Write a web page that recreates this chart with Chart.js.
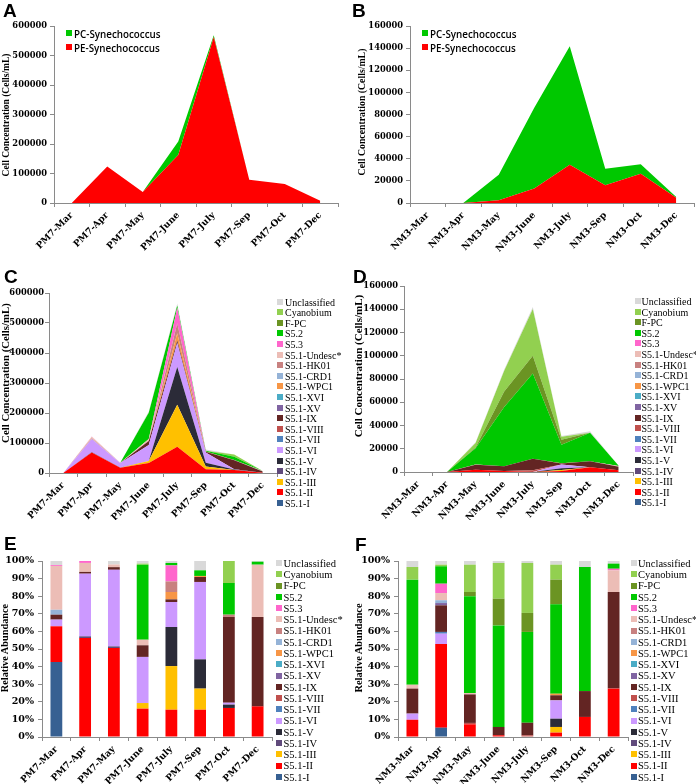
<!DOCTYPE html>
<html>
<head>
<meta charset="utf-8">
<script src="https://cdn.jsdelivr.net/npm/chart.js@4.4.0/dist/chart.umd.min.js"></script>
<style>
body { margin: 0; background: #fff; }
#page { position: relative; width: 696px; height: 784px; overflow: hidden; }
canvas { position: absolute; }
.letter { position: absolute; font: bold 19px 'Liberation Sans', Arial, sans-serif; line-height: 19px; color: #000; }
.ytitle { position: absolute; font-family: 'Liberation Serif', 'Times New Roman', serif; font-weight: bold; line-height: 1; white-space: nowrap; transform: translate(-50%, -50%) rotate(-90deg); }
.lg { position: absolute; white-space: nowrap; line-height: 1; color: #000; }
.sq { position: absolute; }
</style>
</head>
<body>
<div id="page">
  <canvas id="chartA" width="348" height="260" style="left:0;top:0"></canvas>
  <canvas id="chartB" width="348" height="260" style="left:348px;top:0"></canvas>
  <canvas id="chartC" width="348" height="260" style="left:0;top:260px"></canvas>
  <canvas id="chartD" width="348" height="260" style="left:348px;top:260px"></canvas>
  <canvas id="chartE" width="348" height="264" style="left:0;top:520px"></canvas>
  <canvas id="chartF" width="348" height="264" style="left:348px;top:520px"></canvas>
</div>
<script>
// sampling months
const pm7Labels = ['PM7-Mar', 'PM7-Apr', 'PM7-May', 'PM7-June', 'PM7-July', 'PM7-Sep', 'PM7-Oct', 'PM7-Dec'];
const nm3Labels = ['NM3-Mar', 'NM3-Apr', 'NM3-May', 'NM3-June', 'NM3-July', 'NM3-Sep', 'NM3-Oct', 'NM3-Dec'];

// panels A/B: cell concentration (cells/mL)
const pm7PE = [0, 124000, 37000, 163000, 563000, 79000, 64000, 8000];
const pm7PC = [0, 0, 0, 45600, 6000, 0, 0, 0];
const nm3PE = [0, 0, 2400, 13000, 34600, 16000, 26500, 4800];
const nm3PC = [0, 0, 23200, 73000, 107200, 15000, 8500, 600];

// clades, bottom of stack first
const cladeNames = ['S5.1-I', 'S5.1-II', 'S5.1-III', 'S5.1-IV', 'S5.1-V', 'S5.1-VI', 'S5.1-VII', 'S5.1-VIII',
  'S5.1-IX', 'S5.1-XV', 'S5.1-XVI', 'S5.1-WPC1', 'S5.1-CRD1', 'S5.1-HK01', 'S5.1-Undesc*', 'S5.3', 'S5.2',
  'F-PC', 'Cyanobium', 'Unclassified'];
const cladeColors = ['#376092', '#ff0000', '#ffc000', '#604a7b', '#2b2b38', '#cc99ff', '#4f81bd', '#c0504d',
  '#632523', '#8064a2', '#4bacc6', '#f79646', '#95b3d7', '#c88180', '#ecbdb6', '#ff66cc', '#00c800',
  '#6b9423', '#92d050', '#d9d9d9'];

// panel C: PM7 clade concentrations (cells/mL), rows in cladeNames order
const pm7Conc = [
  [0, 0, 0, 0, 0, 0, 0, 0],
  [0, 68600, 17700, 33000, 87600, 12100, 10200, 1220],
  [0, 0, 0, 6600, 140100, 9400, 0, 0],
  [0, 1200, 350, 0, 0, 0, 0, 0],
  [0, 0, 0, 0, 125400, 12900, 1200, 0],
  [0, 43400, 15200, 53700, 80200, 34300, 700, 0],
  [0, 0, 0, 0, 0, 0, 0, 0],
  [0, 0, 0, 0, 0, 0, 0, 0],
  [0, 1200, 500, 13500, 8500, 2200, 30200, 3560],
  [0, 0, 0, 0, 0, 0, 0, 0],
  [0, 0, 0, 0, 0, 0, 0, 0],
  [0, 0, 0, 0, 23700, 470, 0, 0],
  [0, 0, 0, 0, 0, 0, 0, 0],
  [0, 0, 0, 0, 33900, 0, 800, 0],
  [0, 6200, 520, 6600, 0, 0, 0, 2080],
  [0, 1300, 0, 0, 51400, 0, 0, 0],
  [0, 0, 0, 87300, 7900, 2500, 11200, 120],
  [0, 0, 0, 0, 0, 0, 0, 0],
  [0, 0, 0, 1200, 0, 0, 7750, 0],
  [0, 0, 700, 3100, 6200, 4100, 0, 30]
];

// panel D: NM3 clade concentrations (cells/mL)
const nm3Conc = [
  [0, 0, 0, 0, 0, 0, 0, 0],
  [0, 0, 1840, 880, 0, 780, 3990, 1490],
  [0, 0, 0, 0, 0, 990, 0, 0],
  [0, 0, 0, 0, 0, 0, 0, 0],
  [0, 0, 0, 0, 0, 1460, 0, 0],
  [0, 0, 0, 0, 0, 3220, 0, 0],
  [0, 0, 0, 0, 0, 0, 0, 0],
  [0, 0, 200, 0, 1400, 0, 0, 0],
  [0, 0, 4150, 4140, 10100, 900, 5150, 2960],
  [0, 0, 0, 0, 0, 0, 0, 0],
  [0, 0, 0, 0, 0, 0, 0, 0],
  [0, 0, 0, 0, 0, 280, 0, 0],
  [0, 0, 0, 0, 0, 0, 0, 0],
  [0, 0, 0, 0, 0, 0, 0, 0],
  [0, 0, 200, 0, 0, 0, 0, 660],
  [0, 0, 0, 0, 0, 0, 0, 50],
  [0, 0, 14080, 50800, 73200, 15750, 24680, 160],
  [0, 0, 610, 13400, 15300, 4340, 0, 0],
  [0, 0, 3970, 17900, 40300, 2640, 0, 0],
  [0, 0, 540, 970, 1560, 650, 1190, 80]
];

// panel E: PM7 relative abundance (%)
const pm7Pct = [
  [42.6, 0, 0, 0, 0, 0, 0, 0],
  [20.3, 56.2, 50.5, 16.1, 15.5, 15.5, 16.5, 17.4],
  [0, 0, 0, 3.2, 24.8, 12.0, 0, 0],
  [0, 1.0, 1.0, 0, 0, 0, 0, 0],
  [0, 0, 0, 0, 22.2, 16.6, 1.9, 0],
  [3.8, 35.6, 43.5, 26.2, 14.2, 44.0, 1.1, 0],
  [0, 0, 0, 0, 0, 0, 0, 0],
  [0, 0, 0, 0, 0, 0, 0, 0],
  [2.8, 1.0, 1.5, 6.6, 1.5, 2.8, 48.7, 50.8],
  [0, 0, 0, 0, 0, 0, 0, 0],
  [0, 0, 0, 0, 0, 0, 0, 0],
  [0, 0, 0, 0, 4.2, 0.6, 0, 0],
  [2.8, 0, 0, 0, 0, 0, 0, 0],
  [0, 0, 0, 0, 6.0, 0, 1.3, 0],
  [24.9, 5.1, 1.5, 3.2, 0, 0, 0, 29.7],
  [0.5, 1.1, 0, 0, 9.1, 0, 0, 0],
  [0, 0, 0, 42.6, 1.4, 3.2, 18.0, 1.7],
  [0, 0, 0, 0, 0, 0, 0, 0],
  [0, 0, 0, 0.6, 0, 0, 12.5, 0],
  [2.3, 0, 2.0, 1.5, 1.1, 5.3, 0, 0.4]
];

// panel F: NM3 relative abundance (%)
const nm3Pct = [
  [0, 5.3, 0, 0, 0, 0, 0, 0],
  [9.8, 47.5, 7.2, 1.0, 0, 2.5, 11.4, 27.5],
  [0, 0, 0, 0, 0, 3.2, 0, 0],
  [0, 0, 0, 0, 0, 0, 0, 0],
  [0, 0, 0, 0, 0, 4.7, 0, 0],
  [3.5, 5.9, 0, 0, 0, 10.4, 0, 0],
  [0, 1.0, 0, 0, 0, 0, 0, 0],
  [0, 0, 0.8, 0, 1.0, 0, 0, 0],
  [14.2, 15.1, 16.2, 4.7, 7.1, 2.9, 14.7, 54.9],
  [0, 1.3, 0, 0, 0, 0, 0, 0],
  [0, 0, 0, 0, 0, 0, 0, 0],
  [0, 0, 0, 0, 0, 0.9, 0, 0],
  [0, 1.6, 0, 0, 0, 0, 0, 0],
  [0, 0, 0, 0, 0, 0, 0, 0],
  [2.2, 4.1, 0.8, 0, 0, 0, 0, 12.3],
  [0, 5.3, 0, 0, 0, 0, 0, 0.9],
  [59.7, 9.9, 55.0, 57.7, 51.6, 50.8, 70.5, 2.9],
  [0, 0, 2.4, 15.2, 10.8, 14.0, 0, 0],
  [7.2, 0.9, 15.5, 20.3, 28.4, 8.5, 0, 0],
  [3.4, 2.1, 2.1, 1.1, 1.1, 2.1, 3.4, 1.5]
];

const axisGray = '#8a8a8a';
const serifBold = "'DejaVu Serif', serif";
const page = document.getElementById('page');

function scales(W, H, area, yMax, yStep, fmt, stackX, ySize, yPad) {
  return {
    x: {
      stacked: stackX,
      offset: true,
      grid: { offset: true, drawOnChartArea: false, tickLength: 4, color: axisGray },
      border: { color: axisGray },
      ticks: { autoSkip: false, minRotation: 45, maxRotation: 45, font: { family: serifBold, weight: 'bold', size: 9.1 }, color: '#000', padding: 3 },
      afterFit: s => { s.height = H - area.bottom; }
    },
    y: {
      stacked: true,
      min: 0,
      max: yMax,
      grid: { drawOnChartArea: false, tickLength: 4, color: axisGray },
      border: { color: axisGray },
      ticks: { stepSize: yStep, font: { family: serifBold, weight: 'bold', size: ySize }, color: '#000', padding: yPad, callback: fmt },
      afterFit: s => { s.width = area.left; }
    }
  };
}

function baseOptions(W, H, area) {
  return {
    responsive: false,
    animation: false,
    devicePixelRatio: 1,
    layout: { padding: { left: 0, top: area.top, right: W - area.right, bottom: 0 } },
    plugins: { legend: { display: false }, tooltip: { enabled: false } }
  };
}

function areaChart(id, labels, rows, colors, yMax, yStep, area, yPad) {
  const cv = document.getElementById(id);
  const W = cv.width, H = cv.height;
  const datasets = rows.map((vals, i) => ({
    data: vals,
    backgroundColor: colors[i],
    borderColor: 'rgba(0,0,0,0)',
    borderWidth: 0,
    pointRadius: 0,
    tension: 0,
    fill: i === 0 ? 'origin' : '-1'
  }));
  const options = baseOptions(W, H, area);
  options.scales = scales(W, H, area, yMax, yStep, v => String(v), false, 8.3, yPad);
  new Chart(cv.getContext('2d'), { type: 'line', data: { labels, datasets }, options });
}

function barChart(id, labels, rows, colors, area) {
  const cv = document.getElementById(id);
  const W = cv.width, H = cv.height;
  const datasets = rows.map((vals, i) => ({
    data: vals,
    backgroundColor: colors[i],
    borderWidth: 0,
    categoryPercentage: 1,
    barPercentage: 0.41
  }));
  const options = baseOptions(W, H, area);
  options.scales = scales(W, H, area, 100, 10, v => v + '%', true, 9.5, 4);
  new Chart(cv.getContext('2d'), { type: 'bar', data: { labels, datasets }, options });
}

function addText(cls, text, css) {
  const d = document.createElement('div');
  d.className = cls;
  d.textContent = text;
  Object.assign(d.style, css);
  page.appendChild(d);
  return d;
}

function addLegend(names, colors, sqLeft, textLeft, firstY, gap, font, sq) {
  names.forEach((name, i) => {
    const y = firstY + i * gap;
    const s = document.createElement('div');
    s.className = 'sq';
    Object.assign(s.style, { left: sqLeft + 'px', top: (y - sq / 2) + 'px', width: sq + 'px', height: sq + 'px', background: colors[i] });
    page.appendChild(s);
    addText('lg', name, { left: textLeft + 'px', top: (y - font.size / 2) + 'px', font: font.weight + ' ' + font.size + 'px ' + font.family });
  });
}

// A and B
areaChart('chartA', pm7Labels, [pm7PE, pm7PC], ['#ff0000', '#00c800'], 600000, 100000,
  { left: 54, top: 26, right: 338, bottom: 203 }, 3);
areaChart('chartB', nm3Labels, [nm3PE, nm3PC], ['#ff0000', '#00c800'], 160000, 20000,
  { left: 62, top: 26, right: 346, bottom: 203 }, 3);
// C and D
areaChart('chartC', pm7Labels, pm7Conc, cladeColors, 600000, 100000,
  { left: 49, top: 33, right: 277, bottom: 213 }, 1);
areaChart('chartD', nm3Labels, nm3Conc, cladeColors, 160000, 20000,
  { left: 56, top: 26, right: 285, bottom: 212 }, 2);
// E and F
barChart('chartE', pm7Labels, pm7Pct, cladeColors, { left: 42, top: 41, right: 272, bottom: 217 });
barChart('chartF', nm3Labels, nm3Pct, cladeColors, { left: 50, top: 41, right: 280, bottom: 217 });

// panel letters
[['A', 3, 1], ['B', 352, 1], ['C', 4, 267], ['D', 353, 267], ['E', 4, 534], ['F', 355, 535]].forEach(([t, x, y]) =>
  addText('letter', t, { left: x + 'px', top: y + 'px' }));

// y axis titles
const conc = 'Cell Concentration (Cells/mL)';
const rel = 'Relative Abundance';
[[conc, 7, 115, 9.5], [conc, 362, 112, 9.8], [conc, 5, 373, 10.8], [conc, 357.5, 366, 11],
 [rel, 5, 648, 10.3], [rel, 359, 648, 10.4]].forEach(([t, x, y, s]) =>
  addText('ytitle', t, { left: x + 'px', top: y + 'px', fontSize: s + 'px' }));

// legends
const synNames = ['PC-Synechococcus', 'PE-Synechococcus'];
const synColors = ['#00c800', '#ff0000'];
const sansFont = { family: "'Open Sans', sans-serif", weight: '600', size: 9.8 };
addLegend(synNames, synColors, 66, 74, 33, 13.5, sansFont, 6);
addLegend(synNames, synColors, 422, 430, 33, 13.5, sansFont, 6);

const revNames = cladeNames.slice().reverse();
const revColors = cladeColors.slice().reverse();
const serif10 = { family: "'Liberation Serif', serif", weight: 'normal', size: 10 };
const serif105 = { family: "'Liberation Serif', serif", weight: 'normal', size: 10.5 };
addLegend(revNames, revColors, 277, 285, 301.5, 10.6, serif10, 6);
addLegend(revNames, revColors, 634.5, 641.5, 301, 10.6, serif10, 6);
addLegend(revNames, revColors, 276, 283.5, 563, 11.26, serif105, 6);
addLegend(revNames, revColors, 631, 638, 563, 11.26, serif105, 6);
</script>
</body>
</html>
